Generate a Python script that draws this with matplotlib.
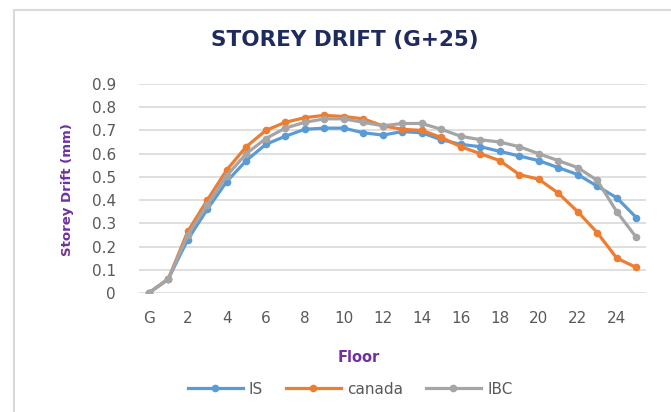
import matplotlib
matplotlib.use("Agg")
import matplotlib.pyplot as plt
from matplotlib.patches import Rectangle
from matplotlib.lines import Line2D

floors = ["G"] + [str(i) for i in range(1, 26)]
IS = [0, 0.06, 0.23, 0.36, 0.48, 0.57, 0.64, 0.675, 0.705, 0.71, 0.71, 0.69, 0.68,
      0.695, 0.69, 0.66, 0.64, 0.63, 0.61, 0.59, 0.57, 0.54, 0.51, 0.46, 0.41, 0.325]
canada = [0, 0.06, 0.265, 0.40, 0.53, 0.63, 0.70, 0.735, 0.755, 0.765, 0.76, 0.75, 0.72,
          0.705, 0.70, 0.67, 0.63, 0.60, 0.57, 0.51, 0.49, 0.43, 0.35, 0.26, 0.15, 0.11]
IBC = [0, 0.06, 0.25, 0.38, 0.505, 0.60, 0.665, 0.71, 0.735, 0.75, 0.75, 0.735, 0.72,
       0.73, 0.73, 0.705, 0.675, 0.66, 0.65, 0.63, 0.60, 0.57, 0.54, 0.485, 0.35, 0.24]
yticks = [0, 0.1, 0.2, 0.3, 0.4, 0.5, 0.6, 0.7, 0.8, 0.9]
ytick_labels = ["0", "0.1", "0.2", "0.3", "0.4", "0.5", "0.6", "0.7", "0.8", "0.9"]

series = [("IS", IS, "#5B9BD5"), ("canada", canada, "#ED7D31"), ("IBC", IBC, "#A5A5A5")]

W, H = 671, 412
fig = plt.figure(figsize=(W / 100, H / 100), dpi=100)
fig.patch.set_facecolor("white")

# outer frame
fig.patches.append(Rectangle((14 / W, -0.1), 1.2, 1 - 10 / H + 0.1, transform=fig.transFigure,
                             fill=False, edgecolor="#D9D9D9", linewidth=1.5))

ax = fig.add_axes([139 / W, 1 - 293 / H, (646 - 139) / W, (293 - 84) / H])
x = list(range(len(floors)))
for name, vals, col in series:
    ax.plot(x, vals, color=col, linewidth=2.3, marker="o", markersize=5.5,
            markeredgewidth=0, label=name, solid_capstyle="round")

ax.set_xlim(-0.5, len(floors) - 0.5)
ax.set_ylim(0, 0.9)
ax.set_yticks(yticks)
ax.set_yticklabels(ytick_labels)
tick_idx = list(range(0, len(floors), 2))
ax.set_xticks(tick_idx)
ax.set_xticklabels([floors[i] for i in tick_idx])
ax.tick_params(axis="both", length=0, labelsize=11, labelcolor="#595959")
ax.tick_params(axis="y", pad=16.5)
ax.tick_params(axis="x", pad=13)
ax.grid(axis="y", color="#D9D9D9", linewidth=1.2)
ax.set_axisbelow(True)
for s in ax.spines.values():
    s.set_visible(False)

fig.text(345 / W, 1 - 40 / H, "STOREY DRIFT (G+25)", ha="center", va="center",
         fontsize=15.5, fontweight="bold", color="#1F2A5F")
fig.text(68 / W, 1 - 190 / H, "Storey Drift (mm)", ha="center", va="center",
         rotation=90, fontsize=9.5, fontweight="bold", color="#7030A0")
fig.text(359 / W, 1 - 358 / H, "Floor", ha="center", va="center",
         fontsize=10.5, fontweight="bold", color="#7030A0")

handles = [Line2D([0], [0], color=c, linewidth=2.3, marker="o", markersize=5.5,
                  markeredgewidth=0) for _, _, c in series]
fig.legend(handles, [n for n, _, _ in series], loc="center", bbox_to_anchor=(350 / W, 1 - 389 / H),
           ncol=3, frameon=False, fontsize=11, handlelength=3.6, handletextpad=0.4,
           columnspacing=1.5, labelcolor="#595959")

fig.savefig("out.png", dpi=100, facecolor="white")
